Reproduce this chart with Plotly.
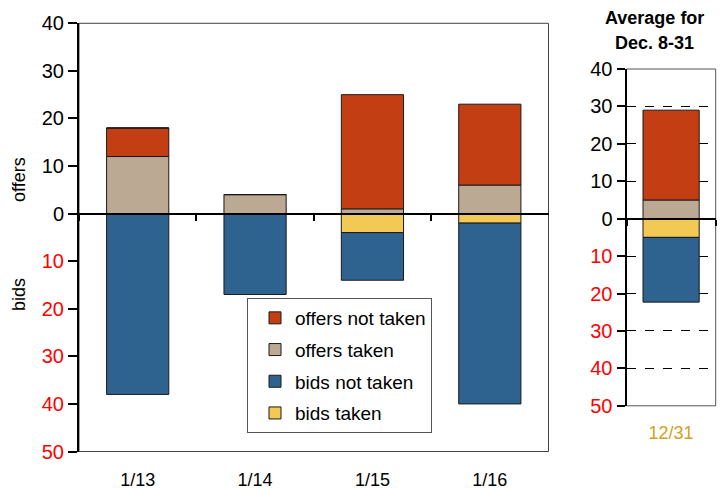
import plotly.graph_objects as go

# ---- data ----
dates = ["1/13", "1/14", "1/15", "1/16"]
offers_taken = [12, 4, 1, 6]
offers_not_taken = [6, 0, 24, 17]
bids_taken = [0, 0, 4, 2]
bids_not_taken = [38, 17, 10, 38]

avg_label = ["12/31"]
avg_offers_taken = [5]
avg_offers_not_taken = [24]
avg_bids_taken = [5]
avg_bids_not_taken = [17.3]

y_ticks = [-50, -40, -30, -20, -10, 0, 10, 20, 30, 40]

# ---- style ----
OFF = 8  # page body margin
W, H = 726 - OFF, 489 - OFF
FONT = "Arial, Liberation Sans, Helvetica, sans-serif"
C_ONT = "#C43E14"
C_OT = "#BBA993"
C_BNT = "#2E6390"
C_BT = "#F3C955"
OUT = dict(color="#1a1a1a", width=1)

def px_x(p):
    return (p - OFF) / W

def px_y(p):
    return 1 - (p - OFF) / H

main_x = [px_x(79), px_x(548.5)]
main_y = [px_y(451.5), px_y(23.3)]
side_x = [px_x(626.5), px_x(715.7)]
side_y = [px_y(405.8), px_y(69)]

def zero_pos(dom):
    return dom[0] + (0 - (-50)) / 90 * (dom[1] - dom[0])

ticktext = [f"<span style='color:#FF0000'>{-v}</span>" if v < 0 else str(v) for v in y_ticks]

fig = go.Figure()

series = [
    ("offers taken", offers_taken, avg_offers_taken, 1, C_OT, 2),
    ("offers not taken", offers_not_taken, avg_offers_not_taken, 1, C_ONT, 1),
    ("bids taken", bids_taken, avg_bids_taken, -1, C_BT, 4),
    ("bids not taken", bids_not_taken, avg_bids_not_taken, -1, C_BNT, 3),
]

for name, vals, avgv, sign, col, rank in series:
    fig.add_trace(go.Bar(
        x=dates, y=[sign * v for v in vals], name=name,
        marker=dict(color=col, line=OUT), width=0.53,
        legendgroup=name, legendrank=rank,
        xaxis="x", yaxis="y", hoverinfo="skip",
    ))
    fig.add_trace(go.Bar(
        x=avg_label, y=[sign * v for v in avgv], name=name,
        marker=dict(color=col, line=OUT), width=0.63,
        legendgroup=name, showlegend=False,
        xaxis="x2", yaxis="y2", hoverinfo="skip",
    ))

tickfont = dict(family=FONT, size=20, color="black")

fig.update_layout(
    width=W, height=H,
    margin=dict(l=0, r=0, t=0, b=0, autoexpand=False),
    paper_bgcolor="white", plot_bgcolor="white",
    barmode="relative",
    font=dict(family=FONT, color="black"),
    showlegend=True,
    legend=dict(
        x=px_x(247), y=px_y(298), xanchor="left", yanchor="top",
        bgcolor="white", bordercolor="#555", borderwidth=1,
        font=dict(family=FONT, size=19, color="black"),
        tracegroupgap=4, indentation=7, entrywidth=166,
    ),
    xaxis=dict(
        domain=main_x, anchor="free", position=zero_pos(main_y),
        type="category", showline=True, linecolor="black", linewidth=2,
        ticks="outside", tickson="boundaries", ticklen=6, tickwidth=2, tickcolor="black",
        showgrid=False, tickfont=dict(family=FONT, size=18, color="black"),
        ticklabelstandoff=250, range=[-0.5, 3.5], automargin=False,
    ),
    yaxis=dict(
        domain=main_y, anchor="x", range=[-50, 40],
        tickvals=y_ticks, ticktext=ticktext, tickfont=tickfont,
        showline=True, linecolor="black", linewidth=2,
        ticks="outside", ticklen=9, tickwidth=2, tickcolor="black",
        showgrid=False, zeroline=False, automargin=False,
    ),
    xaxis2=dict(
        domain=side_x, anchor="free", position=zero_pos(side_y),
        type="category", showline=True, linecolor="black", linewidth=2,
        ticks="outside", tickson="boundaries", ticklen=6, tickwidth=2, tickcolor="black",
        showgrid=False, tickfont=dict(family=FONT, size=18, color="#D4A021"),
        ticklabelstandoff=198, range=[-0.5, 0.5], automargin=False,
    ),
    yaxis2=dict(
        domain=side_y, anchor="x2", range=[-50, 40],
        tickvals=y_ticks, ticktext=ticktext, tickfont=tickfont,
        showline=True, linecolor="black", linewidth=2,
        ticks="outside", ticklen=8, tickwidth=2, tickcolor="black",
        showgrid=True, gridcolor="black", gridwidth=1, griddash="dash",
        zeroline=False, automargin=False,
    ),
    shapes=[
        dict(type="rect", xref="x domain", yref="y domain", x0=0, x1=1, y0=0, y1=1,
             line=dict(color="#444", width=1), layer="below"),
        dict(type="rect", xref="x2 domain", yref="y2 domain", x0=0, x1=1, y0=0, y1=1,
             line=dict(color="#555", width=1), layer="below"),
    ],
    annotations=[
        dict(text="offers", x=px_x(19), y=px_y(180), xref="paper", yref="paper",
             xanchor="center", yanchor="middle",
             showarrow=False, textangle=-90, font=dict(family=FONT, size=18, color="black")),
        dict(text="bids", x=px_x(19), y=px_y(295), xref="paper", yref="paper",
             xanchor="center", yanchor="middle",
             showarrow=False, textangle=-90, font=dict(family=FONT, size=18, color="black")),
        dict(text="<b>Average for</b>", x=px_x(654), y=px_y(18),
             xref="paper", yref="paper", showarrow=False, xanchor="center", yanchor="middle",
             font=dict(family=FONT, size=18, color="black")),
        dict(text="<b>Dec. 8-31</b>", x=px_x(654), y=px_y(43),
             xref="paper", yref="paper", showarrow=False, xanchor="center", yanchor="middle",
             font=dict(family=FONT, size=18, color="black")),
    ],
)

fig.write_html("out.html")
